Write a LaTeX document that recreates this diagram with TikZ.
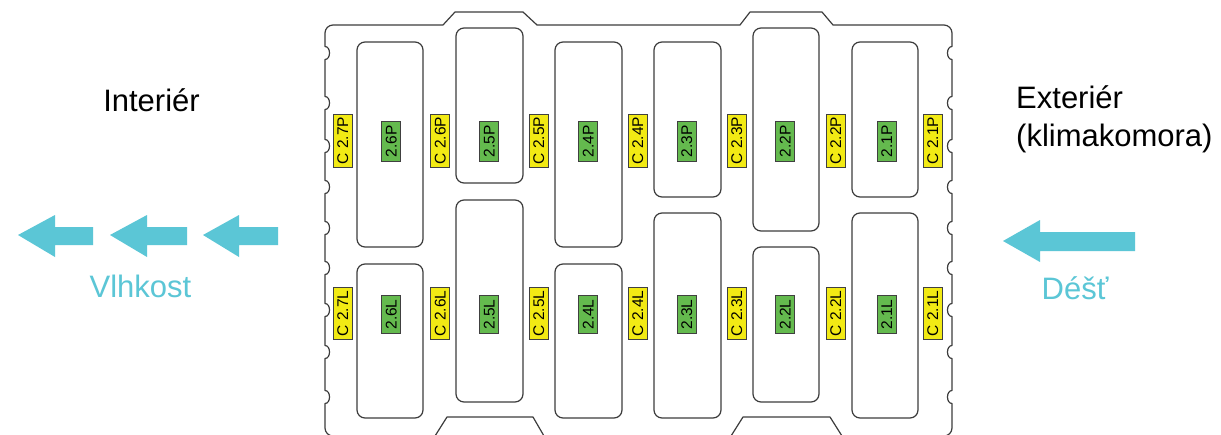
\documentclass[tikz,border=0pt]{standalone}
\usepackage{fontspec}
\setmainfont{Liberation Sans}
\definecolor{flow}{RGB}{91,198,214}
\definecolor{lblyellow}{RGB}{242,234,20}
\definecolor{lblgreen}{RGB}{100,186,78}
\definecolor{edge}{RGB}{60,60,60}
\begin{document}
\begin{tikzpicture}[x=1pt,y=-1pt,
  outline/.style={draw=edge,line width=1.2pt,line join=round},
  cell/.style={draw=edge,line width=1.2pt,rounded corners=8pt},
  lbl/.style={rotate=90,draw=black!75,line width=0.6pt,font=\fontsize{15.5}{15.5}\selectfont,
    inner ysep=0pt,minimum height=19pt,text height=11.2pt,text depth=0pt},
  ylbl/.style={lbl,fill=lblyellow,inner xsep=3pt},
  glbl/.style={lbl,fill=lblgreen,inner xsep=3.8pt},
  bigtext/.style={font=\fontsize{31}{37}\selectfont,inner sep=0pt},
  flowtext/.style={bigtext,text=flow},
  flowarrow/.style={fill=flow}
]
\useasboundingbox (0,0) rectangle (1221,434);
\fill[white] (0,0) rectangle (1221,434);

% outer outline
\draw[outline]
 (325,33) .. controls (325,28.6) and (328.6,25) .. (333,25)
 -- (443,25) -- (455,12) -- (523,12) -- (537,25)
 -- (740,25) -- (750,12) -- (822,12) -- (833,25)
 -- (944,25) .. controls (948.4,25) and (952,28.6) .. (952,33)
 \foreach \b in {53,103,146,187,228,268,310,352,397} { -- (952,{\b-6.5}) .. controls (946,{\b-6.5}) and (946,{\b+6.5}) .. (952,{\b+6.5}) }
 -- (952,428) .. controls (952,432.4) and (948.4,436) .. (944,436)
 -- (842,436) -- (830,417) -- (743,417) -- (731,436)
 -- (544,436) -- (533,417) -- (447,417) -- (435,436)
 -- (333,436) .. controls (328.6,436) and (325,432.4) .. (325,428)
 \foreach \b in {397,352,310,268,228,187,146,103,53} { -- (325,{\b+6.5}) .. controls (331,{\b+6.5}) and (331,{\b-6.5}) .. (325,{\b-6.5}) }
 -- cycle;

% cells
\draw[cell] (357,42) rectangle (423,247);
\draw[cell] (357,264) rectangle (423,418);
\draw[cell] (456,28) rectangle (523,183);
\draw[cell] (456,200) rectangle (523,402);
\draw[cell] (555,42) rectangle (622,247);
\draw[cell] (555,264) rectangle (622,418);
\draw[cell] (654,42) rectangle (721,197);
\draw[cell] (654,213) rectangle (721,418);
\draw[cell] (753,28) rectangle (819,231);
\draw[cell] (753,247) rectangle (819,402);
\draw[cell] (852,42) rectangle (918,197);
\draw[cell] (852,213) rectangle (918,418);

% yellow labels
\node[ylbl] (c27p) at (342.5,140.5) {C 2.7P};
\node[ylbl] (c26p) at (440,140.5) {C 2.6P};
\node[ylbl] (c25p) at (538.5,140.5) {C 2.5P};
\node[ylbl] (c24p) at (637.5,140.5) {C 2.4P};
\node[ylbl] (c23p) at (736.5,140.5) {C 2.3P};
\node[ylbl] (c22p) at (835.5,140.5) {C 2.2P};
\node[ylbl] (c21p) at (932.5,140.5) {C 2.1P};
\node[ylbl] (c27l) at (342.5,313.5) {C 2.7L};
\node[ylbl] (c26l) at (440,313.5) {C 2.6L};
\node[ylbl] (c25l) at (538.5,313.5) {C 2.5L};
\node[ylbl] (c24l) at (637.5,313.5) {C 2.4L};
\node[ylbl] (c23l) at (736.5,313.5) {C 2.3L};
\node[ylbl] (c22l) at (835.5,313.5) {C 2.2L};
\node[ylbl] (c21l) at (932.5,313.5) {C 2.1L};

% green labels
\node[glbl] (p26) at (391,141.5) {2.6P};
\node[glbl] (p25) at (489,141.5) {2.5P};
\node[glbl] (p24) at (588,141.5) {2.4P};
\node[glbl] (p23) at (686.5,141.5) {2.3P};
\node[glbl] (p22) at (785,141.5) {2.2P};
\node[glbl] (p21) at (886.5,141.5) {2.1P};
\node[glbl] (l26) at (391,314.5) {2.6L};
\node[glbl] (l25) at (489,314.5) {2.5L};
\node[glbl] (l24) at (588,314.5) {2.4L};
\node[glbl] (l23) at (686.5,314.5) {2.3L};
\node[glbl] (l22) at (785,314.5) {2.2L};
\node[glbl] (l21) at (886.5,314.5) {2.1L};

% texts
\node[bigtext,anchor=base] (interier) at (151.5,111) {Interiér};
\node[bigtext,anchor=base west] (exterier) at (1016,108) {Exteriér};
\node[bigtext,anchor=base west] (klima) at (1016,146) {(klimakomora)};
\node[flowtext,anchor=base] (vlhkost) at (140.5,297) {Vlhkost};
\node[flowtext,anchor=base] (dest) at (1075,299) {Déšť};

% arrows
\fill[flowarrow] (18,235) -- (55,215) -- (55,227) -- (93,227) -- (93,245) -- (55,245) -- (55,257) -- cycle;
\fill[flowarrow] (110,235) -- (147,215) -- (147,227) -- (187,227) -- (187,245) -- (147,245) -- (147,257) -- cycle;
\fill[flowarrow] (203,235) -- (239,215) -- (239,227) -- (278,227) -- (278,245) -- (239,245) -- (239,257) -- cycle;
\fill[flowarrow] (1003,241) -- (1040,220) -- (1040,232) -- (1135,232) -- (1135,251) -- (1040,251) -- (1040,262) -- cycle;
\end{tikzpicture}
\end{document}
